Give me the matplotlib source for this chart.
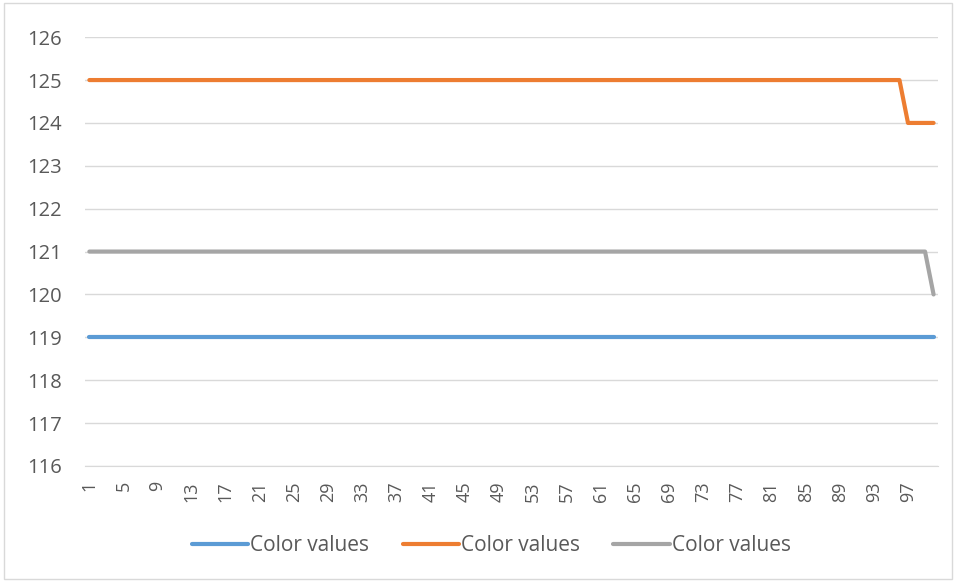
import matplotlib
matplotlib.use("Agg")
import matplotlib.pyplot as plt
from matplotlib.patches import Rectangle

categories = list(range(1, 101))
blue_values = [119] * 100
orange_values = [125] * 96 + [124] * 4
gray_values = [121] * 99 + [120]
series_names = ["Color values", "Color values", "Color values"]
y_ticks = [116, 117, 118, 119, 120, 121, 122, 123, 124, 125, 126]

plt.rcParams['font.family'] = ['Open Sans', 'DejaVu Sans']
txt = '#595959'

fig = plt.figure(figsize=(9.56, 5.81), dpi=100)
fig.patches.append(Rectangle((0.004, 0.004), 0.992, 0.99, transform=fig.transFigure,
                             fill=False, edgecolor='#d9d9d9', linewidth=1))
ax = fig.add_axes([0.089, 0.198, 0.892, 0.738])

xpos = list(range(len(categories)))
for vals, col, name in [(blue_values, '#5b9bd5', series_names[0]),
                        (orange_values, '#ed7d31', series_names[1]),
                        (gray_values, '#a5a5a5', series_names[2])]:
    ax.plot(xpos, vals, color=col, linewidth=3.0, solid_capstyle='round',
            solid_joinstyle='round', label=name)

ax.set_xlim(-0.5, len(categories) - 0.5)
ax.set_ylim(116, 126)
ax.set_yticks(y_ticks)
ax.set_yticklabels([str(v) for v in y_ticks], fontsize=14.5, color=txt)
ax.set_xticks(xpos[::4])
ax.set_xticklabels([str(c) for c in categories[::4]], rotation=90, fontsize=13, color=txt)
ax.grid(axis='y', color='#d9d9d9', linewidth=1)
ax.set_axisbelow(True)
for s in ['top', 'right', 'left']:
    ax.spines[s].set_visible(False)
ax.spines['bottom'].set_color('#d9d9d9')
ax.tick_params(axis='x', length=0, pad=11)
ax.tick_params(axis='y', length=0, pad=16.5)

leg = fig.legend(loc='center', bbox_to_anchor=(0.514, 0.061), ncol=3, frameon=False,
                 fontsize=15, handlelength=2.7, columnspacing=1.6, handletextpad=0.1)
for t in leg.get_texts():
    t.set_color(txt)
for h in leg.legend_handles:
    h.set_linewidth(3.0)

fig.savefig('out.png', dpi=100)
